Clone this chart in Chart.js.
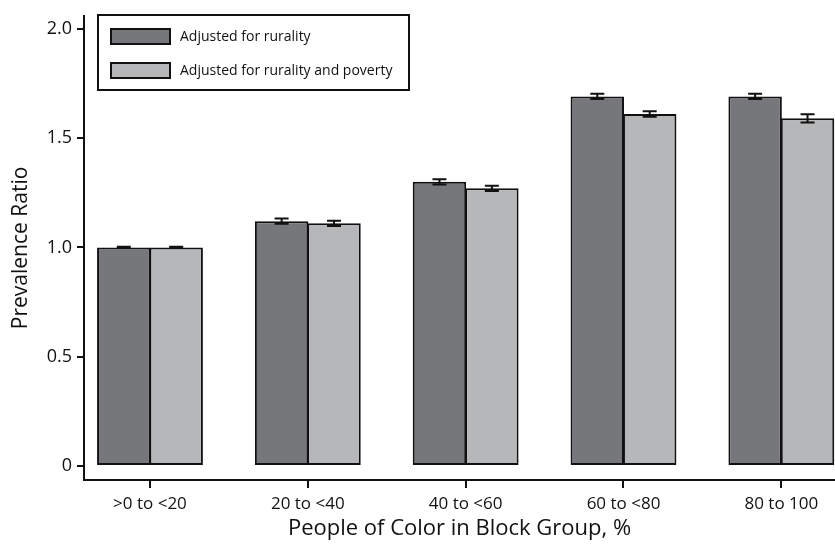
<!DOCTYPE html>
<html>
<head>
<meta charset="utf-8">
<script src="https://cdn.jsdelivr.net/npm/chart.js@4"></script>
<style>
  body { margin: 0; background: white; }
  #wrap { width: 835px; height: 546px; }
</style>
</head>
<body>
<div id="wrap"><canvas id="prChart"></canvas></div>
<script>
const groups = ['>0 to <20', '20 to <40', '40 to <60', '60 to <80', '80 to 100'];
const rurality = [1.00, 1.12, 1.30, 1.69, 1.69];
const ruralityErr = [0.003, 0.012, 0.012, 0.012, 0.012];
const poverty = [1.00, 1.11, 1.27, 1.61, 1.59];
const povertyErr = [0.003, 0.012, 0.012, 0.013, 0.019];
const yTicks = [0, 0.5, 1.0, 1.5, 2.0];

const font = "'Open Sans', 'Noto Sans', sans-serif";

function points(vals) {
    return vals.map((v, i) => ({ x: i, y: v }));
}

// error bars drawn over the bars
const errorBars = {
    id: 'errorBars',
    afterDatasetsDraw(chart) {
        const ctx = chart.ctx;
        const errs = [ruralityErr, povertyErr];
        const yScale = chart.scales.y;
        ctx.save();
        ctx.strokeStyle = '#111';
        ctx.lineWidth = 2;
        chart.data.datasets.forEach((ds, d) => {
            const meta = chart.getDatasetMeta(d);
            meta.data.forEach((bar, i) => {
                const v = ds.data[i].y;
                const top = yScale.getPixelForValue(v + errs[d][i]);
                const bot = yScale.getPixelForValue(v - errs[d][i]);
                ctx.beginPath();
                ctx.moveTo(bar.x, top); ctx.lineTo(bar.x, bot);
                ctx.moveTo(bar.x - 7, top); ctx.lineTo(bar.x + 7, top);
                ctx.moveTo(bar.x - 7, bot); ctx.lineTo(bar.x + 7, bot);
                ctx.stroke();
            });
        });
        ctx.restore();
    }
};

// boxed legend inside the plot
const boxLegend = {
    id: 'boxLegend',
    afterDraw(chart) {
        const ctx = chart.ctx;
        ctx.save();
        ctx.lineWidth = 2;
        ctx.strokeStyle = '#111';
        ctx.strokeRect(98, 15, 311, 75);
        ctx.font = '14px ' + font;
        ctx.textBaseline = 'middle';
        chart.data.datasets.forEach((ds, d) => {
            const y = 29 + d * 34;
            ctx.fillStyle = ds.backgroundColor;
            ctx.fillRect(111, y, 59, 15);
            ctx.strokeRect(111, y, 59, 15);
            ctx.fillStyle = '#111';
            ctx.fillText(ds.label, 180, y + 8);
        });
        ctx.restore();
    }
};

const ctx = document.getElementById('prChart').getContext('2d');
new Chart(ctx, {
    type: 'bar',
    data: {
        datasets: [{
            label: 'Adjusted for rurality',
            data: points(rurality),
            backgroundColor: '#76777a',
            borderColor: '#111',
            borderWidth: 2,
            borderSkipped: false
        },
        {
            label: 'Adjusted for rurality and poverty',
            data: points(poverty),
            backgroundColor: '#b6b7b9',
            borderColor: '#111',
            borderWidth: 2,
            borderSkipped: false
        }]
    },
    options: {
        responsive: true,
        maintainAspectRatio: false,
        animation: false,
        categoryPercentage: 0.664,
        barPercentage: 1.02,
        layout: { padding: { top: 9, right: 0, left: 4, bottom: 0 } },
        plugins: {
            legend: { display: false },
            tooltip: { enabled: false }
        },
        scales: {
            x: {
                type: 'linear',
                offset: false,
                min: -0.418,
                max: 4.34,
                afterBuildTicks: s => { s.ticks = groups.map((g, i) => ({ value: i })); },
                afterFit: s => { s.height = 66; },
                ticks: {
                    color: '#111',
                    font: { family: font, size: 17 },
                    padding: 6,
                    maxRotation: 0,
                    autoSkip: false,
                    callback: v => groups[v]
                },
                grid: {
                    offset: false,
                    drawOnChartArea: false,
                    color: '#111',
                    lineWidth: 2,
                    tickLength: 8
                },
                border: { color: '#111', width: 2 },
                title: {
                    display: true,
                    text: 'People of Color in Block Group, %',
                    color: '#111',
                    font: { family: font, size: 22 },
                    padding: { top: 3 }
                }
            },
            y: {
                min: -0.0636,
                max: 2.059,
                afterBuildTicks: s => { s.ticks = yTicks.map(v => ({ value: v })); },
                afterFit: s => { s.width = 80; },
                ticks: {
                    color: '#111',
                    font: { family: font, size: 18 },
                    padding: 5,
                    callback: v => v === 0 ? '0' : v.toFixed(1)
                },
                grid: {
                    drawOnChartArea: false,
                    color: '#111',
                    lineWidth: 2,
                    tickLength: 7
                },
                border: { color: '#111', width: 2 },
                title: {
                    display: true,
                    text: 'Prevalence Ratio',
                    color: '#111',
                    font: { family: font, size: 21 },
                    padding: { bottom: 0 }
                }
            }
        }
    },
    plugins: [errorBars, boxLegend]
});
</script>
</body>
</html>
